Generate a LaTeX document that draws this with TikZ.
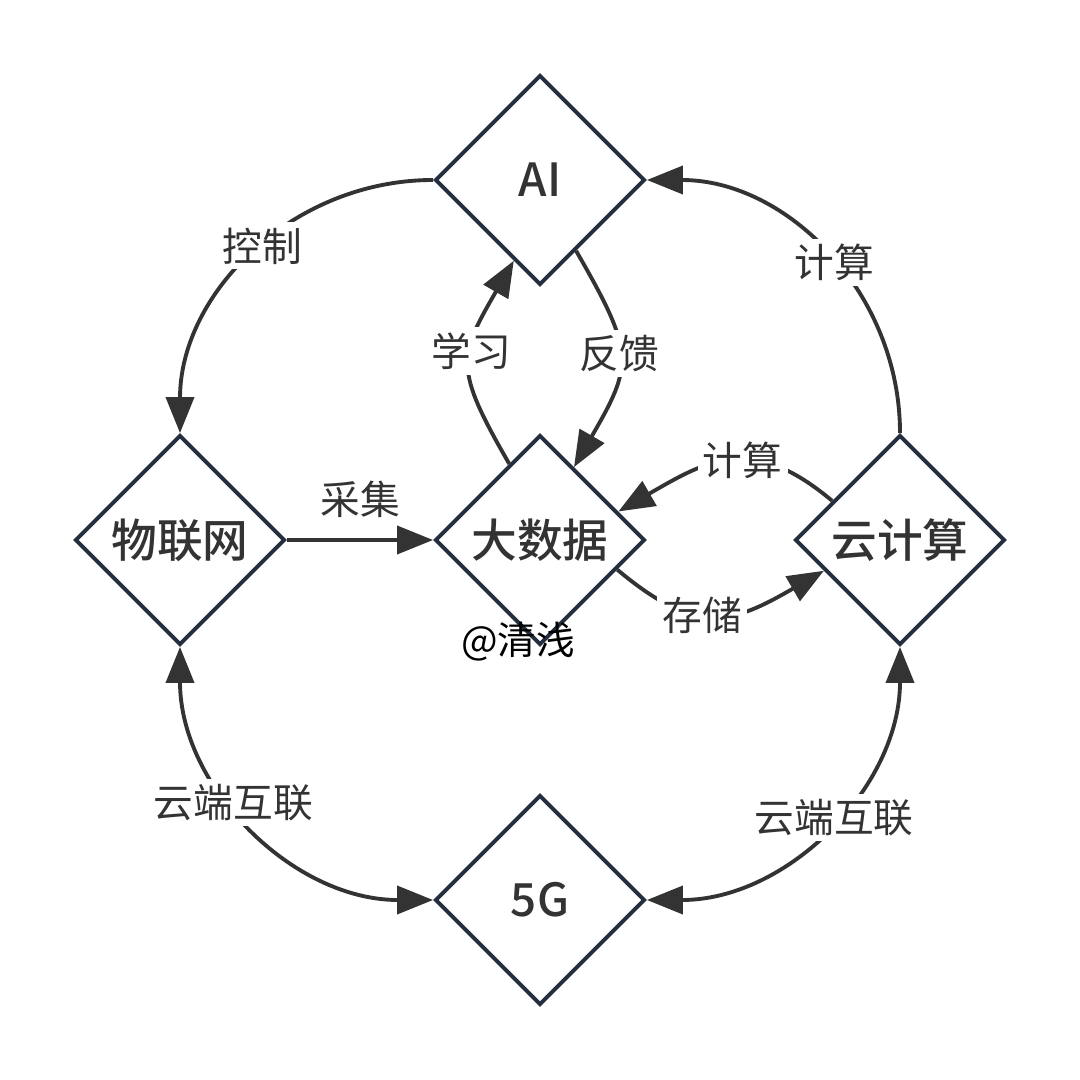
\documentclass[tikz,border=0pt]{standalone}
\usepackage{fontspec}
\setmainfont{Noto Sans CJK SC}[BoldFont={Noto Sans CJK SC Medium}]
\usepackage{xcolor}
\usepackage{tikz}
\usetikzlibrary{shapes.geometric, arrows.meta, positioning}
\definecolor{hubline}{HTML}{232F3E}
\definecolor{flowgray}{HTML}{333333}

\begin{document}
\begin{tikzpicture}[
    >={Triangle[length=3.6mm, width=2.8mm]},
    hub/.style={diamond, draw=hubline, line width=1.1pt, fill=white, inner sep=0pt,
                minimum width=21mm, minimum height=21mm,
                font=\fontsize{13}{15}\selectfont\bfseries, text=flowgray},
    flow/.style={->, line width=1.1pt, color=flowgray},
    tag/.style={fill=white, inner sep=1.5pt, font=\fontsize{11.3}{13}\selectfont, text=flowgray}
]
\useasboundingbox (0,0) rectangle (10.8,-10.8);

\node[hub] (ai)      at (5.4,-1.8) {AI};
\node[hub] (iot)     at (1.8,-5.4) {物联网};
\node[hub] (bigdata) at (5.4,-5.4) {大数据};
\node[hub] (cloud)   at (9.0,-5.4) {云计算};
\node[hub] (fiveg)   at (5.4,-9.0) {5G};

% outer ring
\draw[flow] (ai.west) to[out=180, in=90] node[tag, pos=0.47] {控制} (iot.north);
\draw[flow] (cloud.north) to[out=90, in=0] node[tag, pos=0.47] {计算} (ai.east);
\draw[flow, <->] (iot.south) to[out=270, in=180] node[tag, pos=0.42] {云端互联} (fiveg.west);
\draw[flow, <->] (cloud.south) to[out=270, in=0] node[tag, pos=0.47] {云端互联} (fiveg.east);

% inner links
\draw[flow] (iot) -- node[tag, above=1.5mm] {采集} (bigdata);
\draw[flow] (bigdata.112) to[out=120, in=240, looseness=1.4] node[tag, pos=0.57] {学习} (ai.252);
\draw[flow] (ai.297) to[out=300, in=60, looseness=1.4] node[tag, pos=0.47] {反馈} (bigdata.65);
\draw[flow] (cloud.150) to[out=140, in=30, looseness=1.25] node[tag, pos=0.43] {计算} (bigdata.20);
\draw[flow] (bigdata.-21) to[out=320, in=210, looseness=1.3] node[tag, pos=0.42] {存储} (cloud.202);

\node[font=\fontsize{11}{12}\selectfont] (sign) at (5.18,-6.42) {@清浅};
\end{tikzpicture}
\end{document}
